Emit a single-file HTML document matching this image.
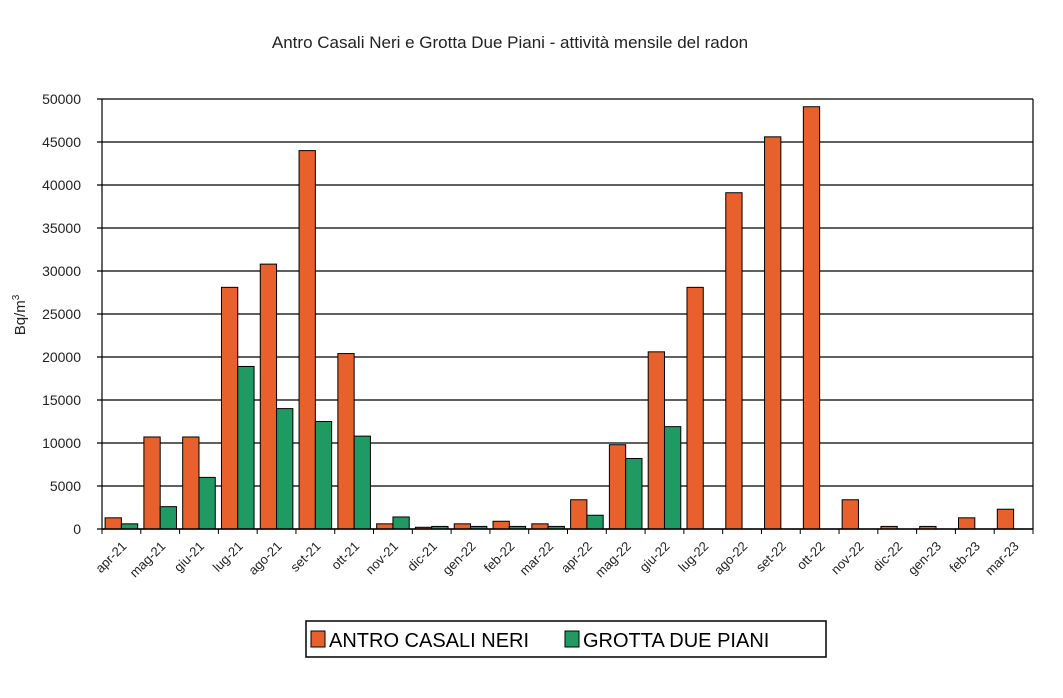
<!DOCTYPE html>
<html><head><meta charset="utf-8"><style>
body{margin:0;background:#fff;font-family:"Liberation Sans",Arial,sans-serif}
</style></head><body>
<svg width="1063" height="693" viewBox="0 0 1063 693" xmlns="http://www.w3.org/2000/svg">
<text x="510" y="48" text-anchor="middle" font-size="17" fill="#222">Antro Casali Neri e Grotta Due Piani - attività mensile del radon</text>
<text transform="translate(25,315) rotate(-90)" text-anchor="middle" font-size="15" fill="#222">Bq/m<tspan font-size="10" dy="-6">3</tspan></text>
<g id="grid"></g><g id="bars"></g><g id="axes"></g>
<g>
<rect x="306" y="621" width="520" height="36" fill="#fff" stroke="#000" stroke-width="1.5"/>
<rect x="311" y="631" width="14" height="16" fill="#e8612c" stroke="#000"/>
<text x="329" y="647" font-size="20" fill="#000">ANTRO CASALI NERI</text>
<rect x="565" y="631" width="14" height="16" fill="#1f9a62" stroke="#000"/>
<text x="583" y="647" font-size="20" fill="#000">GROTTA DUE PIANI</text>
</g>
</svg>
<script>
const categories=["apr-21","mag-21","giu-21","lug-21","ago-21","set-21","ott-21","nov-21","dic-21","gen-22","feb-22","mar-22","apr-22","mag-22","giu-22","lug-22","ago-22","set-22","ott-22","nov-22","dic-22","gen-23","feb-23","mar-23"];
const antro=[1300,10700,10700,28100,30800,44000,20400,600,200,600,900,600,3400,9800,20600,28100,39100,45600,49100,3400,300,300,1300,2300];
const grotta=[600,2600,6000,18900,14000,12500,10800,1400,300,300,300,300,1600,8200,11900,0,0,0,0,0,0,0,0,0];
const yTicks=[0,5000,10000,15000,20000,25000,30000,35000,40000,45000,50000];
const NS="http://www.w3.org/2000/svg";
const x0=102,x1=1033,y0=529,y1=99,ymax=50000;
const bw=(x1-x0)/categories.length;
const ys=v=>y0-(v/ymax)*(y0-y1);
function mk(t,a,p){const e=document.createElementNS(NS,t);for(const k in a)e.setAttribute(k,a[k]);p.appendChild(e);return e;}
const grid=document.getElementById('grid'),bars=document.getElementById('bars'),axes=document.getElementById('axes');
yTicks.forEach(v=>{
 const l=mk('line',{x1:x0-5,x2:x1,y1:ys(v),y2:ys(v),stroke:'#000','stroke-width':1.2},grid);
 
 
 const t=mk('text',{x:x0-21,y:ys(v)+5,'text-anchor':'end','font-size':14,fill:'#222'},grid);
 t.textContent=v;
 
 
});
categories.forEach((c,i)=>{
 const gx=x0+i*bw,w=bw*0.42;
 if(antro[i]>0){const r=mk('rect',{x:gx+bw*0.08,y:ys(antro[i]),width:w,height:y0-ys(antro[i]),fill:'#e8612c',stroke:'#000','stroke-width':1},bars);
 
 }
 if(grotta[i]>0){const r=mk('rect',{x:gx+bw*0.08+w,y:ys(grotta[i]),width:w,height:y0-ys(grotta[i]),fill:'#1f9a62',stroke:'#000','stroke-width':1},bars);
 
 }
 mk('line',{x1:gx,x2:gx,y1:y0,y2:y0+5,stroke:'#000'},axes);
 const cx=gx+bw/2;
 const t=mk('text',{x:cx+6,y:y0+18,'text-anchor':'end','font-size':13,fill:'#222',transform:`rotate(-45 ${cx+6} ${y0+18})`},axes);
 t.textContent=c;
 
 
});
mk('line',{x1:x1,x2:x1,y1:y0,y2:y0+5,stroke:'#000'},axes);
mk('line',{x1:x0,x2:x0,y1:y1,y2:y0,stroke:'#000','stroke-width':1.2},axes);
mk('line',{x1:x1,x2:x1,y1:y1,y2:y0,stroke:'#000','stroke-width':1.2},axes);
mk('line',{x1:x0,x2:x1,y1:y0,y2:y0,stroke:'#000','stroke-width':1.5},axes);
</script>
</body></html>
